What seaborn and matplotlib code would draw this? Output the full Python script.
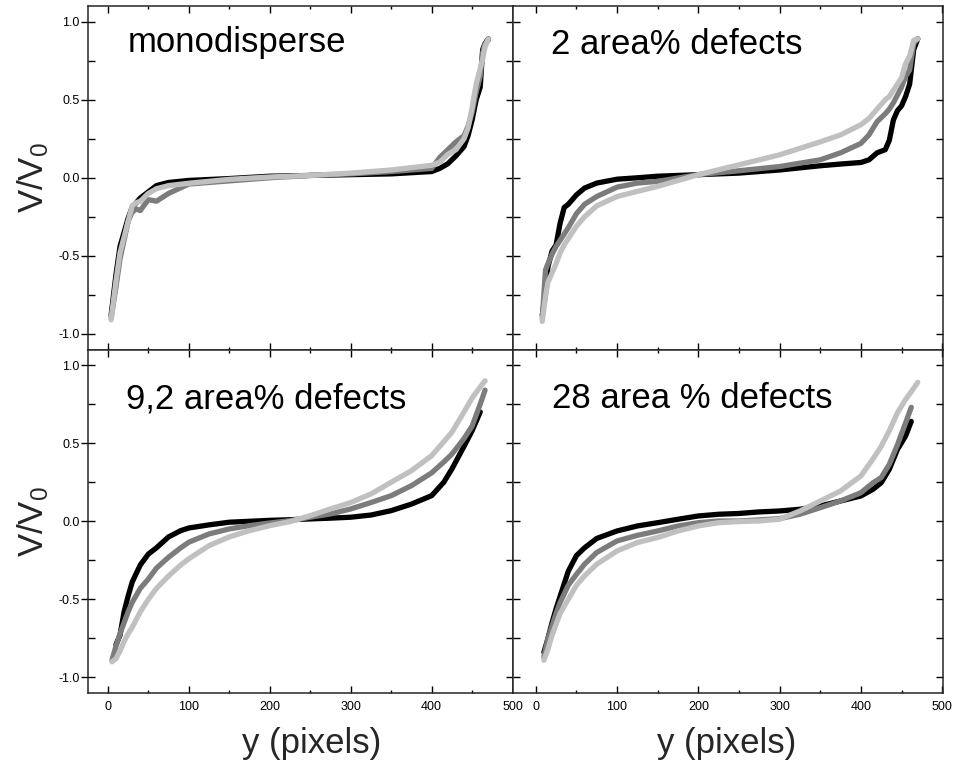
import numpy as np
import pandas as pd
import matplotlib
matplotlib.use("Agg")
import matplotlib.pyplot as plt
import seaborn as sns

nan = np.nan

# ---------------- data ----------------
panel_titles = ["monodisperse", "2 area% defects", "9,2 area% defects", "28 area % defects"]
series_names = ["black", "gray", "light"]
series_colors = ["#000000", "#7c7c7c", "#c0c0c0"]

x_p1 = [4, 10, 15, 20, 25, 30, 35, 40, 50, 60, 75, 100, 150, 200, 250, 300, 350, 400,
        410, 420, 430, 440, 445, 450, 455, 460, 463, 466, 470]
black_p1 = [-0.88, -0.62, -0.44, -0.35, -0.26, -0.19, -0.16, -0.13, -0.09, -0.05, -0.03, -0.017,
            -0.005, 0.01, 0.015, 0.02, 0.025, 0.04, 0.06, 0.09, 0.14, 0.20, 0.27, 0.37, 0.50,
            0.58, 0.82, 0.86, 0.89]
gray_p1 = [-0.90, -0.70, -0.52, -0.40, -0.28, -0.22, -0.20, -0.21, -0.14, -0.15, -0.10, -0.04,
           -0.02, 0.0, 0.015, 0.025, 0.04, 0.06, 0.13, 0.18, 0.23, 0.27, 0.33, 0.42, 0.55,
           0.65, 0.80, 0.86, 0.88]
light_p1 = [-0.91, -0.66, -0.48, -0.38, -0.28, -0.18, -0.16, -0.15, -0.10, -0.07, -0.05, -0.035,
            -0.01, 0.005, 0.015, 0.03, 0.05, 0.08, 0.10, 0.15, 0.18, 0.25, 0.32, 0.45, 0.60,
            0.70, 0.76, 0.84, 0.89]

x_p2 = [8, 12, 15, 20, 25, 30, 35, 40, 50, 60, 75, 100, 125, 150, 200, 250, 300, 350, 375,
        400, 410, 420, 430, 435, 440, 445, 450, 455, 460, 465, 470]
black_p2 = [-0.88, -0.74, -0.57, -0.47, -0.43, -0.29, -0.19, -0.17, -0.11, -0.066, -0.034,
            -0.009, 0.0, 0.01, 0.02, 0.03, 0.05, 0.077, 0.088, 0.098, 0.115, 0.16, 0.18, 0.24,
            0.37, 0.43, 0.46, 0.52, 0.60, 0.82, 0.89]
gray_p2 = [-0.90, -0.59, -0.55, -0.49, -0.44, -0.40, -0.36, -0.32, -0.23, -0.17, -0.12, -0.06,
           -0.034, -0.023, 0.02, 0.045, 0.072, 0.115, 0.16, 0.22, 0.275, 0.36, 0.41, 0.44,
           0.48, 0.53, 0.58, 0.65, 0.69, 0.86, 0.89]
light_p2 = [-0.92, -0.76, -0.67, -0.61, -0.55, -0.48, -0.43, -0.39, -0.31, -0.25, -0.18, -0.12,
            -0.087, -0.055, 0.02, 0.083, 0.147, 0.23, 0.275, 0.34, 0.38, 0.44, 0.50, 0.52,
            0.56, 0.60, 0.64, 0.73, 0.78, 0.88, 0.89]

x_p3 = [5, 10, 15, 20, 25, 30, 40, 50, 60, 75, 90, 100, 125, 150, 175, 200, 225, 250, 275,
        300, 325, 350, 375, 400, 415, 425, 440, 450, 460, 466]
black_p3 = [nan, -0.79, -0.73, -0.58, -0.48, -0.39, -0.28, -0.21, -0.17, -0.10, -0.06, -0.043,
            -0.023, -0.006, 0.0, 0.006, 0.01, 0.015, 0.02, 0.026, 0.04, 0.068, 0.11, 0.164,
            0.25, 0.335, 0.48, 0.58, 0.70, nan]
gray_p3 = [-0.89, -0.80, -0.72, -0.65, -0.58, -0.52, -0.43, -0.37, -0.30, -0.23, -0.17, -0.134,
           -0.081, -0.049, -0.028, -0.011, 0.004, 0.026, 0.047, 0.079, 0.12, 0.164, 0.228,
           0.31, 0.38, 0.43, 0.53, 0.61, 0.75, 0.84]
light_p3 = [-0.90, -0.88, -0.83, -0.77, -0.72, -0.68, -0.58, -0.50, -0.43, -0.35, -0.28, -0.24,
            -0.156, -0.10, -0.06, -0.028, -0.002, 0.036, 0.079, 0.12, 0.175, 0.25, 0.324,
            0.42, 0.51, 0.57, 0.70, 0.79, 0.86, 0.90]

x_p4 = [10, 15, 20, 25, 30, 40, 50, 60, 75, 100, 125, 150, 175, 200, 225, 250, 275, 300, 325,
        350, 375, 400, 415, 425, 435, 445, 455, 462, 470]
black_p4 = [-0.84, -0.75, -0.65, -0.56, -0.48, -0.32, -0.22, -0.17, -0.11, -0.062, -0.03,
            -0.009, 0.013, 0.034, 0.045, 0.05, 0.06, 0.066, 0.077, 0.098, 0.13, 0.162, 0.205,
            0.247, 0.333, 0.46, 0.546, 0.64, nan]
gray_p4 = [-0.87, -0.75, -0.67, -0.59, -0.52, -0.41, -0.34, -0.275, -0.20, -0.126, -0.09,
           -0.062, -0.03, -0.009, 0.002, 0.002, 0.009, 0.017, 0.045, 0.087, 0.13, 0.183,
           0.247, 0.28, 0.365, 0.49, 0.63, 0.73, nan]
light_p4 = [-0.89, -0.82, -0.73, -0.66, -0.59, -0.50, -0.41, -0.35, -0.275, -0.19, -0.136,
            -0.104, -0.062, -0.03, -0.009, -0.002, 0.002, 0.013, 0.066, 0.13, 0.194, 0.29,
            0.40, 0.48, 0.58, 0.695, 0.78, 0.83, 0.89]

x_ticks = [0, 100, 200, 300, 400, 500]
x_tick_labels = ["0", "100", "200", "300", "400", "500"]
y_ticks = [-1.0, -0.5, 0.0, 0.5, 1.0]
y_tick_labels = ["-1.0", "-0.5", "0.0", "0.5", "1.0"]
x_label = "y (pixels)"
y_label = r"$\mathregular{V/V_0}$"

panels = [
    (x_p1, [black_p1, gray_p1, light_p1]),
    (x_p2, [black_p2, gray_p2, light_p2]),
    (x_p3, [black_p3, gray_p3, light_p3]),
    (x_p4, [black_p4, gray_p4, light_p4]),
]

# ---------------- style ----------------
sns.set_style("ticks")
plt.rcParams["font.family"] = ["Liberation Sans", "DejaVu Sans"]
plt.rcParams["axes.unicode_minus"] = False
plt.rcParams["axes.linewidth"] = 1.1

fig = plt.figure(figsize=(9.58, 7.64), dpi=100)
gs = fig.add_gridspec(2, 2, width_ratios=[425, 430], hspace=0, wspace=0,
                      left=0.0919, right=0.9843, top=0.9921, bottom=0.0929)

title_pos = [(0.094, 0.866), (0.088, 0.860), (0.089, 0.829), (0.091, 0.831)]
xlims = [(-24.5, 500.5), (-28, 501)]

for i, (xs, ys_list) in enumerate(panels):
    r, c = divmod(i, 2)
    ax = fig.add_subplot(gs[r, c])
    rows = []
    for name, ys in zip(series_names, ys_list):
        for xv, yv in zip(xs, ys):
            rows.append({"x": xv, "y": yv, "series": name})
    df = pd.DataFrame(rows).dropna()
    sns.lineplot(data=df, x="x", y="y", hue="series", hue_order=series_names,
                 palette=series_colors, sort=False, estimator=None, linewidth=3.8,
                 legend=False, ax=ax, solid_capstyle="round", solid_joinstyle="round")

    ax.set_xlim(*xlims[c])
    ax.set_ylim(-1.1, 1.1)
    ax.set_xticks(x_ticks)
    ax.set_xticks([50, 150, 250, 350, 450], minor=True)
    ax.set_yticks(y_ticks)
    ax.set_yticks([-0.75, -0.25, 0.25, 0.75], minor=True)
    ax.tick_params(which="both", direction="in", top=True, right=True, bottom=True,
                   left=True, width=1.0, labelsize=9, colors="black")
    ax.tick_params(which="major", length=5)
    ax.tick_params(axis="y", which="minor", length=5)
    ax.tick_params(axis="x", which="minor", length=2.5)

    if r == 1:
        ax.set_xticklabels(x_tick_labels)
        ax.tick_params(axis="x", pad=6)
        ax.set_xlabel(x_label, fontsize=25)
        ax.xaxis.set_label_coords(0.525 if c == 0 else 0.498, -0.098)
    else:
        ax.set_xticklabels([])
        ax.set_xlabel("")
    if c == 0:
        ax.set_yticklabels(y_tick_labels)
        ax.tick_params(axis="y", which="major", direction="inout", length=10, pad=1)
        ax.set_ylabel(y_label, fontsize=25)
        ax.yaxis.set_label_coords(-0.087, 0.5)
    else:
        ax.set_yticklabels([])
        ax.set_ylabel("")

    tx, ty = title_pos[i]
    ax.text(tx, ty, panel_titles[i], transform=ax.transAxes, fontsize=25,
            ha="left", va="baseline", color="black")

fig.savefig("out.png", dpi=100)
